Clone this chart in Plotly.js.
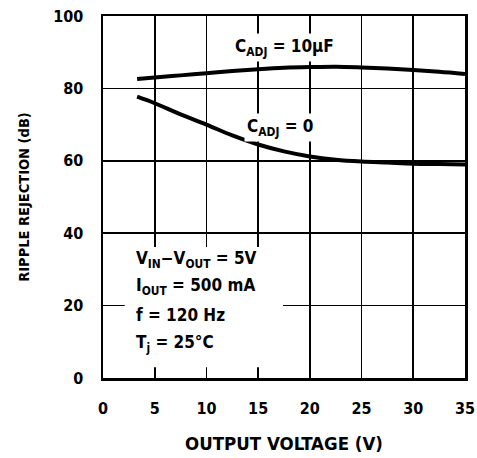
<!DOCTYPE html>
<html>
<head>
<meta charset="utf-8">
<script src="https://cdn.plot.ly/plotly-3.0.1.min.js"></script>
<style>html,body{margin:0;padding:0;background:#fff;}#chart{width:477px;height:458px;}</style>
</head>
<body>
<div id="chart"></div>
<script>
const outputVoltage = [3.3, 5, 7.5, 10, 12.5, 15, 17.5, 20, 22.5, 25, 27.5, 30, 32.5, 35];
const rejection10uF = [82.6, 83.0, 83.6, 84.2, 84.8, 85.3, 85.7, 85.9, 86.0, 85.8, 85.5, 85.1, 84.6, 84.0];
const rejection0 = [77.7, 75.9, 72.8, 70.0, 67.0, 64.5, 62.6, 61.2, 60.3, 59.8, 59.5, 59.2, 59.1, 59.0];
const xTicks = [0, 5, 10, 15, 20, 25, 30, 35];
const yTicks = [0, 20, 40, 60, 80, 100];

const FONT = "'Liberation Sans Narrow', 'DejaVu Sans Condensed', 'Arial Narrow', sans-serif";
function f(size) { return {family: FONT, size: size, color: '#000', weight: 'bold'}; }
const txt = f(17);

const lineStyle = {color: '#000', width: 4, shape: 'spline', smoothing: 1};
const traces = [
  {x: outputVoltage, y: rejection10uF, mode: 'lines', line: lineStyle, hoverinfo: 'skip'},
  {x: outputVoltage, y: rejection0, mode: 'lines', line: lineStyle, hoverinfo: 'skip'}
];

function ann(text, x, y, xanchor, bg) {
  return {text: text, x: x, y: y, xref: 'x', yref: 'y', xanchor: xanchor, yanchor: 'middle',
          showarrow: false, font: txt, bgcolor: bg ? '#fff' : 'rgba(0,0,0,0)', borderpad: 2};
}

const layout = {
  width: 477, height: 458,
  margin: {l: 103, r: 12, t: 16, b: 80},
  paper_bgcolor: '#fff', plot_bgcolor: '#fff',
  showlegend: false,
  font: txt,
  xaxis: {
    range: [0, 35], tickvals: xTicks, ticktext: xTicks.map(String),
    showgrid: true, gridcolor: '#000', gridwidth: 1.6,
    showline: true, linecolor: '#000', linewidth: 2.5, mirror: true,
    zeroline: false, ticks: '', ticklabelstandoff: 14,
    tickfont: f(16),
    title: {text: 'OUTPUT VOLTAGE (V)', font: f(18.5), standoff: 21}
  },
  yaxis: {
    range: [0, 100], tickvals: yTicks, ticktext: yTicks.map(String),
    showgrid: true, gridcolor: '#000', gridwidth: 1.6,
    showline: true, linecolor: '#000', linewidth: 2.5, mirror: true,
    zeroline: false, ticks: '', ticklabelstandoff: 14,
    tickfont: f(16),
    title: {text: 'RIPPLE REJECTION (dB)', font: f(14.5), standoff: 20}
  },
  shapes: [
    {type: 'rect', xref: 'x', yref: 'y', x0: 2.1, x1: 17.4, y0: 3.0, y1: 36.2,
     fillcolor: '#fff', line: {width: 0}, layer: 'above'}
  ],
  annotations: [
    ann('C<sub>ADJ</sub> = 10µF', 17.5, 91.4, 'center', true),
    ann('C<sub>ADJ</sub> = 0', 17.1, 69.3, 'center', true),
    ann('V<sub>IN</sub>−V<sub>OUT</sub> = 5V', 2.9, 32.6, 'left', false),
    ann('I<sub>OUT</sub> = 500 mA', 2.9, 25.2, 'left', false),
    ann('f = 120 Hz', 2.9, 17.4, 'left', false),
    ann('T<sub>j</sub> = 25°C', 2.9, 9.4, 'left', false)
  ]
};

Plotly.newPlot('chart', traces, layout, {displayModeBar: false, staticPlot: true});
</script>
</body>
</html>
